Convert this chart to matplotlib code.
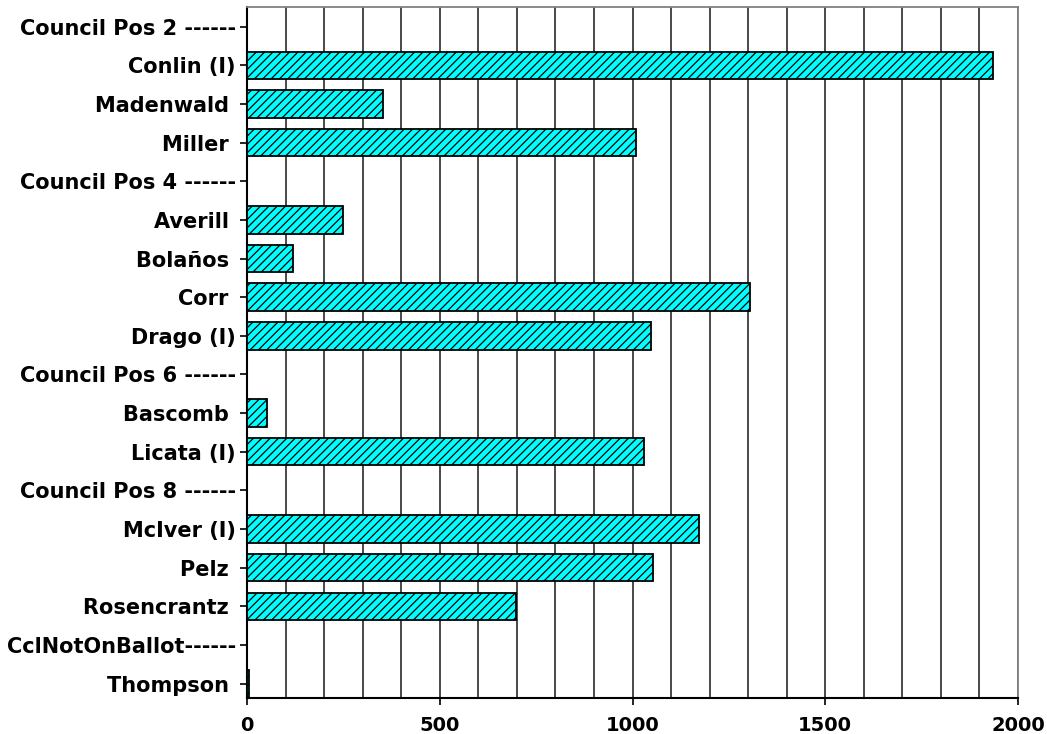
import numpy as np
import matplotlib
matplotlib.use("Agg")
import matplotlib.pyplot as plt

categories = ["Council Pos 2 ------", "Conlin (I)", "Madenwald ", "Miller ",
              "Council Pos 4 ------", "Averill ", "Bolaños ", "Corr ", "Drago (I)",
              "Council Pos 6 ------", "Bascomb ", "Licata (I)",
              "Council Pos 8 ------", "McIver (I)", "Pelz ", "Rosencrantz ",
              "CclNotOnBallot------", "Thompson "]
votes = [None, 1934, 353, 1010,
         None, 248, 120, 1305, 1048,
         None, 52, 1030,
         None, 1172, 1052, 698,
         None, 6]
x_ticks = [0, 500, 1000, 1500, 2000]

plt.rcParams['hatch.linewidth'] = 0.9
plt.rcParams['hatch.color'] = '#1a1a1a'

fig = plt.figure(figsize=(10.47, 7.34), dpi=100)
ax = fig.add_axes([247/1047, 1 - 698.3/734, (1018 - 247)/1047, (698.3 - 7)/734])

pos = np.arange(len(categories))
bar_pos = [p for p, v in zip(pos, votes) if v is not None]
bar_val = [v for v in votes if v is not None]
ax.barh(bar_pos, bar_val, height=0.71, color='#00FFFF', edgecolor='black',
        linewidth=1.3, hatch='////', zorder=3)

ax.set_xlim(0, 2000)
ax.set_ylim(17.38, -0.51)
ax.set_yticks(pos)
ax.set_yticklabels(categories, fontsize=15, fontweight='bold', family='DejaVu Sans')
ax.set_xticks(x_ticks)
ax.set_xticklabels([str(t) for t in x_ticks], fontsize=14, fontweight='bold', family='DejaVu Sans')
ax.set_xticks(np.arange(100, 2000, 100), minor=True)
ax.tick_params(axis='x', which='minor', length=0)
ax.tick_params(axis='x', which='major', length=5, width=1.2, pad=8, direction='out')
ax.tick_params(axis='y', length=5, width=1.2, pad=3, direction='out')
ax.grid(True, axis='x', which='both', color='#3a3a3a', linewidth=1.3, zorder=1)
ax.grid(False, axis='y')
ax.set_axisbelow(True)

for side in ['left', 'bottom']:
    ax.spines[side].set_color('black')
    ax.spines[side].set_linewidth(1.5)
for side in ['top', 'right']:
    ax.spines[side].set_color('#808080')
    ax.spines[side].set_linewidth(1.3)

fig.savefig('out.png', dpi=100)
